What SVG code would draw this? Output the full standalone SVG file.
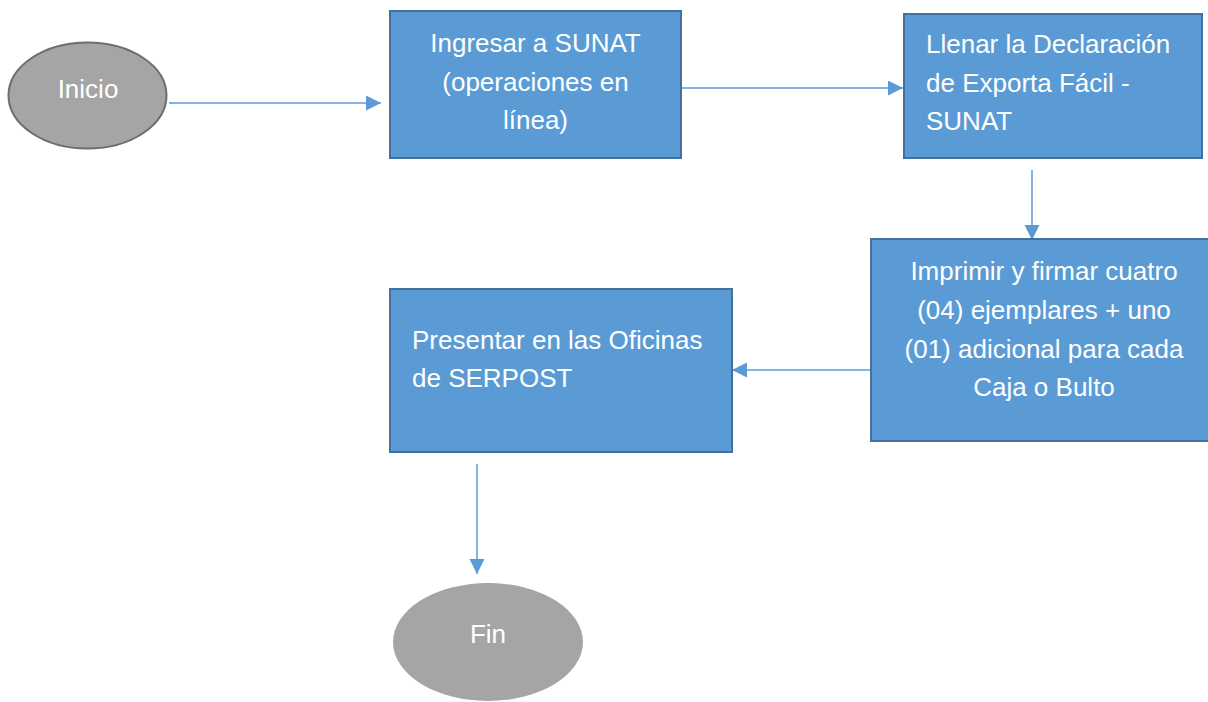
<svg xmlns="http://www.w3.org/2000/svg" width="1208" height="702" viewBox="0 0 1208 702">
<style>
.box{fill:#5b9bd5;stroke:#41719c;stroke-width:2}
.term{fill:#a5a5a5}
.t{font-family:"Liberation Sans",Arial,sans-serif;font-size:26px;fill:#ffffff}
.c{text-anchor:middle}
.conn{stroke:#5b9bd5;stroke-width:1.5;fill:none}
</style>
<defs>
<marker id="ah" markerUnits="userSpaceOnUse" markerWidth="16" markerHeight="16" refX="15" refY="7.5" orient="auto">
<path d="M0,0 L15,7.5 L0,15 Z" fill="#5b9bd5"/>
</marker>
</defs>
<rect width="1208" height="702" fill="#ffffff"/>
<g id="connectors">
<line class="conn" x1="169" y1="103" x2="381" y2="103" marker-end="url(#ah)"/>
<line class="conn" x1="682" y1="88" x2="903" y2="88" marker-end="url(#ah)"/>
<line class="conn" x1="1032" y1="170" x2="1032" y2="240" marker-end="url(#ah)"/>
<line class="conn" x1="871" y1="370" x2="732" y2="370" marker-end="url(#ah)"/>
<line class="conn" x1="477" y1="464" x2="477" y2="574" marker-end="url(#ah)"/>
</g>
<g id="inicio">
<ellipse class="term" cx="87.5" cy="95.5" rx="79" ry="53" stroke="#6d6d6d" stroke-width="2"/>
<text class="t c" x="88" y="98">Inicio</text>
</g>
<g id="ingresar">
<rect class="box" x="390" y="11" width="291" height="147"/>
<text class="t c" x="535.5" y="52">Ingresar a SUNAT</text>
<text class="t c" x="535.5" y="91">(operaciones en</text>
<text class="t c" x="535.5" y="129">línea)</text>
</g>
<g id="llenar">
<rect class="box" x="904" y="14" width="298" height="144"/>
<text class="t" x="926" y="53">Llenar la Declaración</text>
<text class="t" x="926" y="92">de Exporta Fácil -</text>
<text class="t" x="926" y="130">SUNAT</text>
</g>
<g id="imprimir">
<rect class="box" x="871" y="239" width="346" height="202"/>
<text class="t c" x="1044" y="280">Imprimir y firmar cuatro</text>
<text class="t c" x="1044" y="319">(04) ejemplares + uno</text>
<text class="t c" x="1044" y="358">(01) adicional para cada</text>
<text class="t c" x="1044" y="396">Caja o Bulto</text>
</g>
<g id="presentar">
<rect class="box" x="390" y="289" width="342" height="163"/>
<text class="t" x="412" y="349">Presentar en las Oficinas</text>
<text class="t" x="412" y="387">de SERPOST</text>
</g>
<g id="fin">
<ellipse class="term" cx="488" cy="642" rx="95" ry="59"/>
<text class="t c" x="488" y="643">Fin</text>
</g>
</svg>
